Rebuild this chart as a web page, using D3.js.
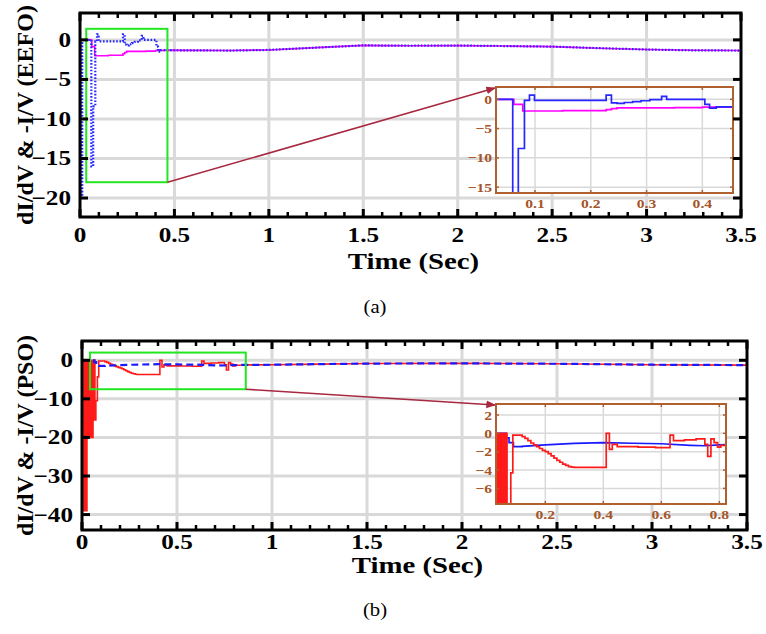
<!DOCTYPE html>
<html>
<head>
<meta charset="utf-8">
<script src="https://cdn.jsdelivr.net/npm/d3@7"></script>
<style>
  body { margin: 0; background: #fff; }
  svg { display: block; }
  svg text { font-family: "Liberation Serif", "Times New Roman", Times, serif; }
</style>
</head>
<body>
<div id="chart"></div>
<script>
// ---- data ----
const timeTicks = [0, 0.5, 1, 1.5, 2, 2.5, 3, 3.5];
const eefoTicks = [0, -5, -10, -15, -20];
const eefoInsetX = [0.1, 0.2, 0.3, 0.4];
const eefoInsetY = [0, -5, -10, -15];
const psoTicks = [0, -10, -20, -30, -40];
const psoInsetX = [0.2, 0.4, 0.6, 0.8];
const psoInsetY = [2, 0, -2, -4, -6];

// [time, value], each value held until the next time (step part)
const eefoBlueSteps = [[0, 0], [0.002, -20], [0.004, 0], [0.006, -20], [0.008, 0], [0.010, -20], [0.012, 0],
  [0.060, -16], [0.070, -8.4], [0.081, -0.2], [0.090, 0.7], [0.099, -0.2], [0.2275, 0.7], [0.237, -0.6],
  [0.247, -0.7], [0.26, -0.55], [0.275, -0.4], [0.29, -0.25], [0.306, -0.05], [0.327, 0.5], [0.336, 0],
  [0.4045, -0.85], [0.413, -1.5], [0.425, -1.3]];
const eefoMagentaSteps = [[0, 0], [0.062, -0.85], [0.078, -2.0], [0.15, -1.95], [0.2275, -1.76],
  [0.237, -1.6], [0.247, -1.45], [0.35, -1.42], [0.40, -1.35]];
// slow part after the transient (linear)
const eefoTail = [[0.45, -1.3], [0.6, -1.33], [0.8, -1.35], [1.0, -1.27], [1.25, -0.98], [1.5, -0.7],
  [1.75, -0.74], [2.0, -0.72], [2.25, -0.78], [2.5, -0.85], [2.75, -1.05], [3.0, -1.22], [3.25, -1.32], [3.5, -1.35]];

const psoRedSteps = [[0, 0], [0.010, -39], [0.018, 0], [0.022, -39], [0.026, 0], [0.030, -20], [0.034, 0],
  [0.038, -20], [0.042, 0], [0.046, -20], [0.050, 0], [0.054, -20], [0.058, 0], [0.062, -15.5], [0.066, 0],
  [0.068, -15.5], [0.073, -10.5], [0.081, -4.3], [0.088, -0.2], [0.11, -0.2], [0.12, -0.35], [0.13, -0.55],
  [0.14, -0.8], [0.15, -1.05], [0.16, -1.25], [0.17, -1.45], [0.18, -1.65], [0.19, -1.85], [0.20, -2.0],
  [0.21, -2.2], [0.22, -2.45], [0.23, -2.7], [0.24, -2.95], [0.25, -3.15], [0.26, -3.35], [0.27, -3.5],
  [0.28, -3.62], [0.29, -3.68], [0.30, -3.7], [0.41, 0], [0.421, -1.75], [0.431, -1.2], [0.448, -1.45],
  [0.52, -1.5], [0.58, -1.55], [0.63, -0.2], [0.642, -0.8], [0.68, -0.72], [0.72, -0.6], [0.75, -1.2],
  [0.76, -2.5], [0.771, -0.6], [0.782, -1.0], [0.794, -1.5], [0.805, -1.3]];
const psoBlueSteps = [[0, 0], [0.065, -0.5], [0.075, -1.0], [0.09, -1.45]];
const psoBlueSmooth = [[0.12, -1.42], [0.2, -1.25], [0.3, -1.1], [0.4, -1.02], [0.5, -1.08], [0.6, -1.13],
  [0.7, -1.3], [0.75, -1.35], [0.8, -1.25]];
const psoTail = [[0.85, -1.2], [1.0, -1.15], [1.25, -1.0], [1.5, -0.85], [2.0, -0.8], [2.5, -0.9],
  [3.0, -1.15], [3.5, -1.25]];

// ---- helpers ----
const gridColor = "#d9d9d9";
const brown = "#b0602e";
const arrowColor = "#a8283f";

// turn step data into explicit points, then append the linear part
function expand(steps, tail) {
  const pts = [];
  steps.forEach((d, i) => {
    if (i > 0) pts.push([d[0], steps[i - 1][1]]);
    pts.push(d);
  });
  if (tail) {
    pts.push([tail[0][0], steps[steps.length - 1][1]]);
    tail.forEach(d => pts.push(d));
  }
  return pts;
}

function txt(g, x, y, s, o) {
  return g.append("text")
    .attr("transform", `translate(${x},${y}) scale(${o.sx || 1.2},1)`)
    .attr("text-anchor", o.anchor || "middle")
    .style("font-weight", o.weight || "bold")
    .style("font-size", o.size + "px")
    .attr("fill", o.color || "#000")
    .text(s);
}

const svg = d3.select("#chart").append("svg").attr("width", 766).attr("height", 634);
const defs = svg.append("defs");
defs.append("marker")
  .attr("id", "arrowHead")
  .attr("viewBox", "0 0 10 10")
  .attr("refX", 9).attr("refY", 5)
  .attr("markerWidth", 6).attr("markerHeight", 6)
  .attr("orient", "auto")
  .append("path").attr("d", "M0,1L10,5L0,9z").attr("fill", arrowColor);

const panels = [
  {
    id: "a", x: [80, 741], y: [217, 13], yDomain: [-22.4, 3.4], yTicks: eefoTicks,
    ylabel: "dI/dV & -I/V (EEFO)", tickY: 242, timeY: 269, caption: "(a)", captionY: 313,
    series: [
      { pts: expand(eefoMagentaSteps, eefoTail), color: "#ff00ff", width: 1.6 },
      { pts: expand(eefoBlueSteps, eefoTail), color: "#2626ff", width: 2.2, dash: "1.6,1.7" }
    ],
    insetOrder: [0, 1],
    zoomBox: { x: [0.033, 0.463], y: [-18, 1.4] },
    inset: { x: [496, 733], y: [193, 87], xDomain: [0.03, 0.455], yDomain: [-16, 2.1],
      xTicks: eefoInsetX, yTicks: eefoInsetY }
  },
  {
    id: "b", x: [82, 747], y: [530, 341], yDomain: [-44, 5], yTicks: psoTicks,
    ylabel: "dI/dV & -I/V (PSO)", tickY: 549, timeY: 573, caption: "(b)", captionY: 616,
    series: [
      { pts: expand(psoRedSteps, psoTail), color: "#ff1a1a", width: 1.6 },
      { pts: expand(psoBlueSteps, psoBlueSmooth.concat(psoTail)), color: "#1a1aff", width: 2.2, dash: "7,4" }
    ],
    insetOrder: [1, 0],
    zoomBox: { x: [0.042, 0.862], y: [-7.5, 2.0] },
    inset: { x: [496, 726], y: [504, 404], xDomain: [0.03, 0.823], yDomain: [-7.7, 3.2],
      xTicks: psoInsetX, yTicks: psoInsetY }
  }
];

function drawPanel(p) {
  const x = d3.scaleLinear().domain([0, 3.5]).range(p.x);
  const y = d3.scaleLinear().domain(p.yDomain).range(p.y);
  const g = svg.append("g").attr("class", "panel-" + p.id);

  defs.append("clipPath").attr("id", "clip-" + p.id)
    .append("rect").attr("x", p.x[0]).attr("y", p.y[1])
    .attr("width", p.x[1] - p.x[0]).attr("height", p.y[0] - p.y[1]);

  // grid
  g.append("g").selectAll("line").data(timeTicks.slice(1, -1)).join("line")
    .attr("x1", d => x(d)).attr("x2", d => x(d)).attr("y1", p.y[1]).attr("y2", p.y[0])
    .attr("stroke", gridColor).attr("stroke-width", 3);
  g.append("g").selectAll("line").data(p.yTicks).join("line")
    .attr("x1", p.x[0]).attr("x2", p.x[1]).attr("y1", d => y(d)).attr("y2", d => y(d))
    .attr("stroke", gridColor).attr("stroke-width", 3);

  // series
  const line = d3.line().x(d => x(d[0])).y(d => y(d[1]));
  const sg = g.append("g").attr("clip-path", `url(#clip-${p.id})`);
  p.series.forEach(s => {
    sg.append("path").datum(s.pts).attr("d", line)
      .attr("fill", "none").attr("stroke", s.color).attr("stroke-width", s.width)
      .attr("stroke-dasharray", s.dash || null);
  });

  // zoom box and arrow
  const zb = p.zoomBox;
  g.append("rect")
    .attr("x", x(zb.x[0])).attr("y", y(zb.y[1]))
    .attr("width", x(zb.x[1]) - x(zb.x[0])).attr("height", y(zb.y[0]) - y(zb.y[1]))
    .attr("fill", "none").attr("stroke", "#22e622").attr("stroke-width", 2);

  const ins = p.inset;
  g.append("line")
    .attr("x1", x(zb.x[1])).attr("y1", y(zb.y[0]))
    .attr("x2", ins.x[0] - 1).attr("y2", ins.y[1] + 1)
    .attr("stroke", arrowColor).attr("stroke-width", 1.6)
    .attr("marker-end", "url(#arrowHead)");

  // inset
  const ix = d3.scaleLinear().domain(ins.xDomain).range(ins.x);
  const iy = d3.scaleLinear().domain(ins.yDomain).range(ins.y);
  const ig = g.append("g");
  ig.append("rect").attr("x", ins.x[0]).attr("y", ins.y[1])
    .attr("width", ins.x[1] - ins.x[0]).attr("height", ins.y[0] - ins.y[1]).attr("fill", "#fff");
  defs.append("clipPath").attr("id", "iclip-" + p.id)
    .append("rect").attr("x", ins.x[0]).attr("y", ins.y[1])
    .attr("width", ins.x[1] - ins.x[0]).attr("height", ins.y[0] - ins.y[1]);
  ig.append("g").selectAll("line").data(ins.xTicks).join("line")
    .attr("x1", d => ix(d)).attr("x2", d => ix(d)).attr("y1", ins.y[1]).attr("y2", ins.y[0])
    .attr("stroke", gridColor).attr("stroke-width", 1.5);
  ig.append("g").selectAll("line").data(ins.yTicks).join("line")
    .attr("x1", ins.x[0]).attr("x2", ins.x[1]).attr("y1", d => iy(d)).attr("y2", d => iy(d))
    .attr("stroke", gridColor).attr("stroke-width", 1.5);
  const iline = d3.line().x(d => ix(d[0])).y(d => iy(d[1]));
  const isg = ig.append("g").attr("clip-path", `url(#iclip-${p.id})`);
  p.insetOrder.forEach(k => {
    const s = p.series[k];
    isg.append("path").datum(s.pts).attr("d", iline)
      .attr("fill", "none").attr("stroke", s.color).attr("stroke-width", 1.7);
  });
  ig.append("rect").attr("x", ins.x[0]).attr("y", ins.y[1])
    .attr("width", ins.x[1] - ins.x[0]).attr("height", ins.y[0] - ins.y[1])
    .attr("fill", "none").attr("stroke", brown).attr("stroke-width", 2);
  // inset ticks, inward on all sides
  ins.xTicks.forEach(t => {
    ig.append("line").attr("x1", ix(t)).attr("x2", ix(t)).attr("y1", ins.y[1]).attr("y2", ins.y[1] + 3)
      .attr("stroke", brown).attr("stroke-width", 1.5);
    ig.append("line").attr("x1", ix(t)).attr("x2", ix(t)).attr("y1", ins.y[0]).attr("y2", ins.y[0] - 3)
      .attr("stroke", brown).attr("stroke-width", 1.5);
    txt(ig, ix(t), ins.y[0] + 15, d3.format("")(t), { size: 13, color: "#a5552a" });
  });
  ins.yTicks.forEach(t => {
    ig.append("line").attr("x1", ins.x[0]).attr("x2", ins.x[0] + 3).attr("y1", iy(t)).attr("y2", iy(t))
      .attr("stroke", brown).attr("stroke-width", 1.5);
    ig.append("line").attr("x1", ins.x[1]).attr("x2", ins.x[1] - 3).attr("y1", iy(t)).attr("y2", iy(t))
      .attr("stroke", brown).attr("stroke-width", 1.5);
    txt(ig, ins.x[0] - 4, iy(t) + 4.5, d3.format("")(t), { size: 13, color: "#a5552a", anchor: "end" });
  });

  // main frame and ticks
  g.append("rect").attr("x", p.x[0]).attr("y", p.y[1])
    .attr("width", p.x[1] - p.x[0]).attr("height", p.y[0] - p.y[1])
    .attr("fill", "none").attr("stroke", "#000").attr("stroke-width", 3);

  const minor = d3.range(1, 35).map(i => i / 10).filter(v => Math.abs(v * 2 - Math.round(v * 2)) > 1e-6);
  const tk = g.append("g").attr("stroke", "#000");
  minor.forEach(t => {
    tk.append("line").attr("x1", x(t)).attr("x2", x(t)).attr("y1", p.y[1]).attr("y2", p.y[1] + 5).attr("stroke-width", 2.5);
    tk.append("line").attr("x1", x(t)).attr("x2", x(t)).attr("y1", p.y[0]).attr("y2", p.y[0] - 5).attr("stroke-width", 2.5);
  });
  timeTicks.forEach(t => {
    tk.append("line").attr("x1", x(t)).attr("x2", x(t)).attr("y1", p.y[1]).attr("y2", p.y[1] + 8).attr("stroke-width", 3);
    tk.append("line").attr("x1", x(t)).attr("x2", x(t)).attr("y1", p.y[0]).attr("y2", p.y[0] - 8).attr("stroke-width", 3);
    txt(g, x(t), p.tickY, d3.format("")(t), { size: 21 });
  });
  p.yTicks.forEach(t => {
    tk.append("line").attr("x1", p.x[0]).attr("x2", p.x[0] + 8).attr("y1", y(t)).attr("y2", y(t)).attr("stroke-width", 3);
    tk.append("line").attr("x1", p.x[1]).attr("x2", p.x[1] - 8).attr("y1", y(t)).attr("y2", y(t)).attr("stroke-width", 3);
    txt(g, p.x[0] - 9, y(t) + 7, d3.format("")(t), { size: 21, anchor: "end" });
  });

  // axis titles and caption
  g.append("text")
    .attr("transform", `translate(33,${(p.y[0] + p.y[1]) / 2}) rotate(-90)`)
    .attr("text-anchor", "middle")
    .style("font-weight", "bold").style("font-size", "24px")
    .text(p.ylabel);
  txt(g, (p.x[0] + p.x[1]) / 2 + 3, p.timeY, "Time (Sec)", { size: 24 });
  txt(g, 375, p.captionY, p.caption, { size: 18, weight: "normal", sx: 1.15 });
}

panels.forEach(drawPanel);
</script>
</body>
</html>
